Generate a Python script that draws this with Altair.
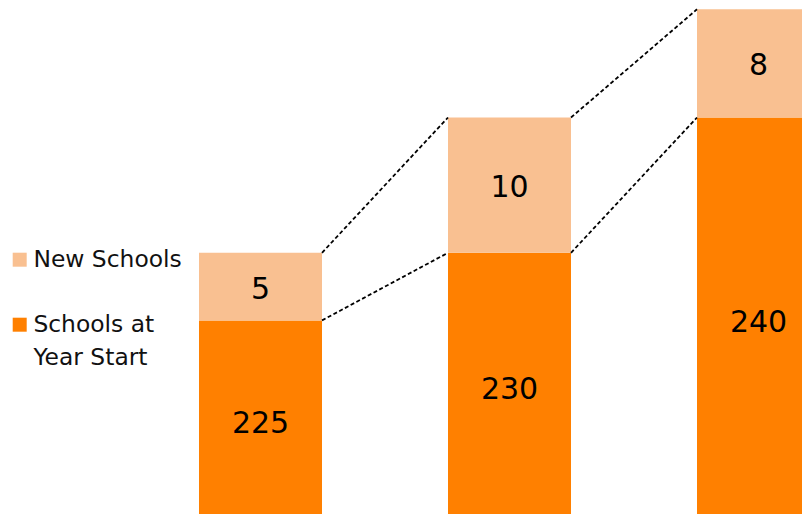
import altair as alt
import pandas as pd

# ---- data ----
categories = ["Year 1", "Year 2", "Year 3"]
start_values = [225, 230, 240]          # Schools at Year Start
new_values = [5, 10, 8]                 # New Schools
series = ["New Schools", "Schools at Year Start"]
colors = ["#F9C091", "#FF8000"]

# ---- layout constants ----
W, H = 794, 506
PX_PER_X = 249.0
PX_PER_Y = 13.526
X_MIN = -1.01406
X_MAX = X_MIN + W / PX_PER_X
Y_MAX = 248.096
Y_MIN = Y_MAX - H / PX_PER_Y
LABEL_FLOOR = 210.1
HALF = 0.247

rows = []
for i, (c, s, n) in enumerate(zip(categories, start_values, new_values)):
    rows.append({"cat": c, "idx": i, "series": series[1], "value": s, "lo": 0, "hi": s})
    rows.append({"cat": c, "idx": i, "series": series[0], "value": n, "lo": s, "hi": s + n})
bars_df = pd.DataFrame(rows)

conn = []
for i in range(len(categories) - 1):
    conn.append({"a": i, "b": i + 1, "y1": start_values[i] + new_values[i],
                 "y2": start_values[i + 1] + new_values[i + 1]})
    conn.append({"a": i, "b": i + 1, "y1": start_values[i], "y2": start_values[i + 1]})
conn_df = pd.DataFrame(conn)

xs = alt.Scale(domain=[X_MIN, X_MAX], nice=False, zero=False)
ys = alt.Scale(domain=[Y_MIN, Y_MAX], nice=False, zero=False, clamp=True)

base = alt.Chart(bars_df).transform_calculate(
    x0=f"datum.idx - {HALF}",
    x1=f"datum.idx + {HALF}",
    mid=f"(max(datum.lo, {LABEL_FLOOR}) + datum.hi) / 2",
)

bars = base.mark_bar(clip=True).encode(
    x=alt.X("x0:Q", scale=xs, axis=None),
    x2="x1:Q",
    y=alt.Y("hi:Q", scale=ys, axis=None),
    y2="lo:Q",
    color=alt.Color(
        "series:N",
        scale=alt.Scale(domain=series, range=colors),
        legend=alt.Legend(
            title=None,
            orient="none",
            legendX=0,
            legendY=240,
            symbolType="square",
            symbolSize=196,
            symbolStrokeWidth=0,
            symbolOpacity=1,
            labelFont="DejaVu Sans",
            labelFontSize=23.4,
            labelColor="#111111",
            labelOffset=2,
            labelLimit=400,
            rowPadding=40,
            padding=0,
            labelExpr="datum.label == 'Schools at Year Start' ? ['Schools at', 'Year Start'] : datum.label",
        ),
    ),
)

labels = base.mark_text(
    font="DejaVu Sans", fontSize=30, color="#000000", baseline="middle", align="center", dy=3
).encode(
    x=alt.X("idx:Q", scale=xs),
    y=alt.Y("mid:Q", scale=ys),
    text=alt.Text("value:Q"),
)

connectors = alt.Chart(conn_df).transform_calculate(
    xa=f"datum.a + {HALF}",
    xb=f"datum.b - {HALF}",
).mark_rule(color="#000000", strokeWidth=1.8, strokeDash=[4, 2.5]).encode(
    x=alt.X("xa:Q", scale=xs),
    x2="xb:Q",
    y=alt.Y("y1:Q", scale=ys),
    y2="y2:Q",
)

chart = alt.layer(bars, connectors, labels).properties(
    width=W,
    height=H,
    autosize=alt.AutoSizeParams(type="none"),
    padding=0,
).configure(
    style={"guide-label": {"lineHeight": 33}}
).configure_view(stroke=None)

chart.save("out.html", embed_options={"renderer": "svg", "actions": False})
